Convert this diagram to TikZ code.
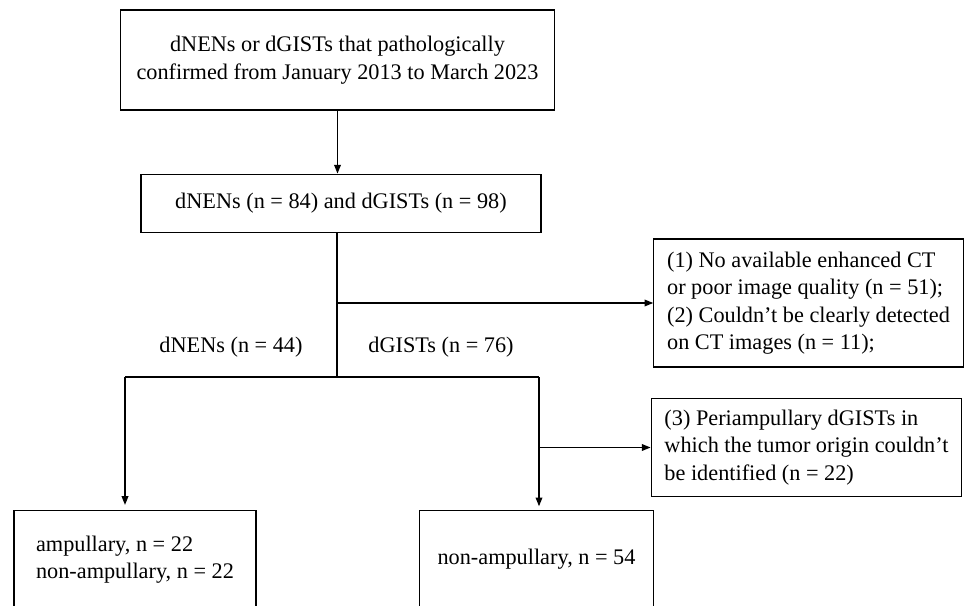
\documentclass[tikz,border=0pt]{standalone}
\usepackage{fontspec}
\setmainfont{Liberation Serif}
\usetikzlibrary{arrows.meta}

\begin{document}
\begin{tikzpicture}[x=0.75pt, y=-0.75pt, line width=0.9pt, >={Triangle[length=6.5pt,width=5pt]},
	every node/.style={font=\fontsize{16.7}{20.6}\selectfont},
	box/.style={draw, align=center, inner sep=0pt}]
	\useasboundingbox (0,0) rectangle (965,606);
	\clip (0,0) rectangle (965,606);
	\node[box, minimum width=326pt, minimum height=75pt] (src) at (337.5,60) {dNENs or dGISTs that pathologically\\confirmed from January 2013 to March 2023};
	\node[box, minimum width=300pt, minimum height=44pt] (total) at (341,203.5) {dNENs (n = 84) and dGISTs (n = 98)};
	\node[box, align=left, minimum width=232pt, minimum height=96pt] (excl1) at (808.5,303) {(1) No available enhanced CT\\or poor image quality (n = 51);\\(2) Couldn't be clearly detected\\on CT images (n = 11);};
	\node[box, align=left, minimum width=233pt, minimum height=73pt] (excl2) at (806.5,447.5) {(3) Periampullary dGISTs in\\which the tumor origin couldn't\\be identified (n = 22)};
	\node[box, align=left, minimum width=181.5pt, minimum height=73pt] (nen) at (135,559.5) {ampullary, n = 22\\non-ampullary, n = 22};
	\node[box, minimum width=176pt, minimum height=73pt] (gist) at (536.5,559.5) {non-ampullary, n = 54};
	\node (nenlbl) at (231,347) {dNENs (n = 44)};
	\node (gistlbl) at (441,347) {dGISTs (n = 76)};
	\coordinate (split) at (337,377);
	\coordinate (lsplit) at (125,377);
	\coordinate (rsplit) at (539,377);
	\draw[->] (src.south) -- (src.south |- total.north);
	\draw (total.south -| split) -- (split);
	\draw[->] (split |- excl1.west) -- (excl1.west);
	\draw (lsplit) -- (rsplit);
	\draw[->, shorten >=4pt] (lsplit) -- (lsplit |- nen.north);
	\draw[->, shorten >=3pt] (rsplit) -- (rsplit |- gist.north);
	\draw[->] (rsplit |- excl2.west) -- (excl2.west);
\end{tikzpicture}
\end{document}
